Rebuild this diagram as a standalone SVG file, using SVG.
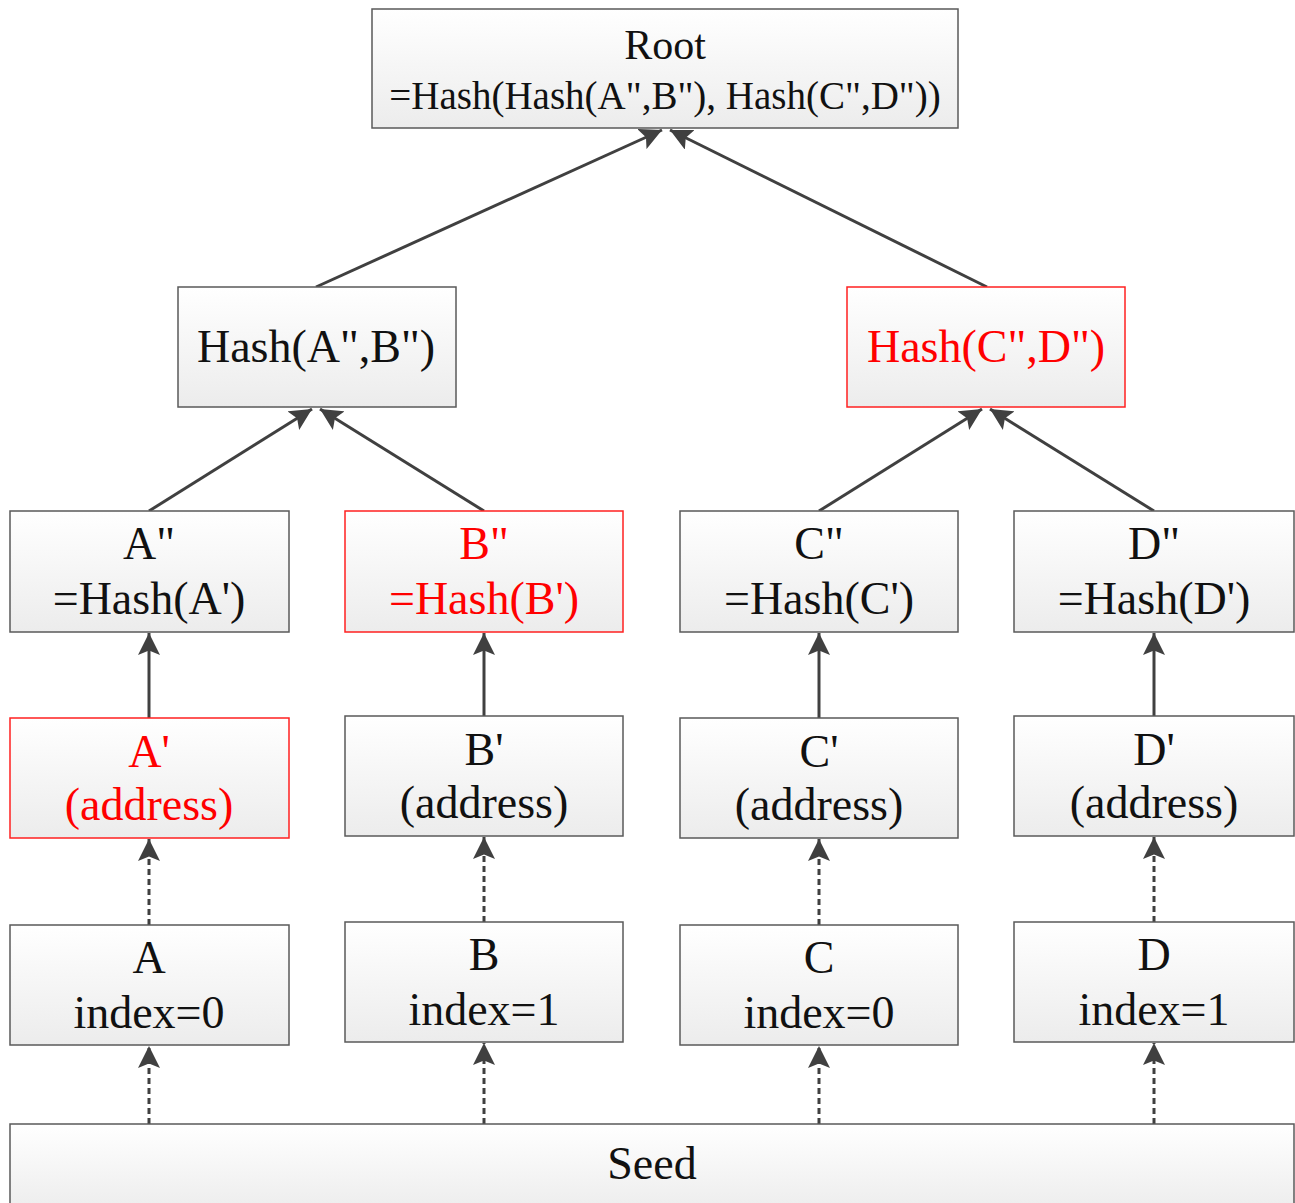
<svg xmlns="http://www.w3.org/2000/svg" width="1295" height="1203" viewBox="0 0 1295 1203">
<defs>
<linearGradient id="g" x1="0" y1="0" x2="0" y2="1">
<stop offset="0" stop-color="#ffffff"/>
<stop offset="1" stop-color="#ececec"/>
</linearGradient>
<marker id="ah" viewBox="0 0 10 10" refX="10" refY="5" markerWidth="22" markerHeight="22" markerUnits="userSpaceOnUse" orient="auto">
<path d="M0,0 L10,5 L0,10 L2,5 z" fill="#404040"/>
</marker>
<style>
.box{fill:url(#g);stroke:#5a5a5a;stroke-width:1.5}
.red{fill:url(#g);stroke:#ff2020;stroke-width:1.5}
text{font-family:"Liberation Serif","Times New Roman",serif;font-size:46px;text-anchor:middle;fill:#111}
.rt{fill:#ff0000}
.c{stroke:#404040;stroke-width:3;fill:none;marker-end:url(#ah)}
.d{stroke:#404040;stroke-width:3;fill:none;stroke-dasharray:6,4;marker-end:url(#ah)}
</style>
</defs>
<g id="connectors">
<line class="c" x1="316" y1="287" x2="662" y2="130"/>
<line class="c" x1="987" y1="287" x2="670" y2="130"/>
<line class="c" x1="149" y1="511" x2="312" y2="409"/>
<line class="c" x1="484" y1="511" x2="320" y2="409"/>
<line class="c" x1="819" y1="511" x2="982" y2="409"/>
<line class="c" x1="1154" y1="511" x2="990" y2="409"/>
<line class="c" x1="149" y1="718" x2="149" y2="633"/>
<line class="c" x1="484" y1="716" x2="484" y2="633"/>
<line class="c" x1="819" y1="718" x2="819" y2="633"/>
<line class="c" x1="1154" y1="716" x2="1154" y2="633"/>
<line class="d" x1="149" y1="925" x2="149" y2="839"/>
<line class="d" x1="484" y1="922" x2="484" y2="837"/>
<line class="d" x1="819" y1="925" x2="819" y2="839"/>
<line class="d" x1="1154" y1="922" x2="1154" y2="837"/>
<line class="d" x1="149" y1="1124" x2="149" y2="1046"/>
<line class="d" x1="484" y1="1124" x2="484" y2="1043"/>
<line class="d" x1="819" y1="1124" x2="819" y2="1046"/>
<line class="d" x1="1154" y1="1124" x2="1154" y2="1043"/>
</g>
<g id="root"><rect class="box" x="372" y="9" width="586" height="119"/>
<text x="665" y="59" style="font-size:42px">Root</text><text x="665" y="109" style="font-size:39px">=Hash(Hash(A",B"), Hash(C",D"))</text></g>
<g id="hashAB"><rect class="box" x="178" y="287" width="278" height="120"/>
<text x="316" y="362">Hash(A",B")</text></g>
<g id="hashCD"><rect class="red" x="847" y="287" width="278" height="120"/>
<text class="rt" x="986" y="362">Hash(C",D")</text></g>
<g id="A2"><rect class="box" x="10" y="511" width="279" height="121"/>
<text x="149" y="559">A"</text><text x="149" y="614">=Hash(A')</text></g>
<g id="B2"><rect class="red" x="345" y="511" width="278" height="121"/>
<text class="rt" x="484" y="559">B"</text><text class="rt" x="484" y="614">=Hash(B')</text></g>
<g id="C2"><rect class="box" x="680" y="511" width="278" height="121"/>
<text x="819" y="559">C"</text><text x="819" y="614">=Hash(C')</text></g>
<g id="D2"><rect class="box" x="1014" y="511" width="280" height="121"/>
<text x="1154" y="559">D"</text><text x="1154" y="614">=Hash(D')</text></g>
<g id="A1"><rect class="red" x="10" y="718" width="279" height="120"/>
<text class="rt" x="149" y="767">A'</text><text class="rt" x="149" y="820">(address)</text></g>
<g id="B1"><rect class="box" x="345" y="716" width="278" height="120"/>
<text x="484" y="765">B'</text><text x="484" y="818">(address)</text></g>
<g id="C1"><rect class="box" x="680" y="718" width="278" height="120"/>
<text x="819" y="767">C'</text><text x="819" y="820">(address)</text></g>
<g id="D1"><rect class="box" x="1014" y="716" width="280" height="120"/>
<text x="1154" y="765">D'</text><text x="1154" y="818">(address)</text></g>
<g id="A0"><rect class="box" x="10" y="925" width="279" height="120"/>
<text x="149" y="973">A</text><text x="149" y="1028">index=0</text></g>
<g id="B0"><rect class="box" x="345" y="922" width="278" height="120"/>
<text x="484" y="970">B</text><text x="484" y="1025">index=1</text></g>
<g id="C0"><rect class="box" x="680" y="925" width="278" height="120"/>
<text x="819" y="973">C</text><text x="819" y="1028">index=0</text></g>
<g id="D0"><rect class="box" x="1014" y="922" width="280" height="120"/>
<text x="1154" y="970">D</text><text x="1154" y="1025">index=1</text></g>
<g id="seed"><rect class="box" x="10" y="1124" width="1284" height="90"/>
<text x="652" y="1179">Seed</text></g>
</svg>
